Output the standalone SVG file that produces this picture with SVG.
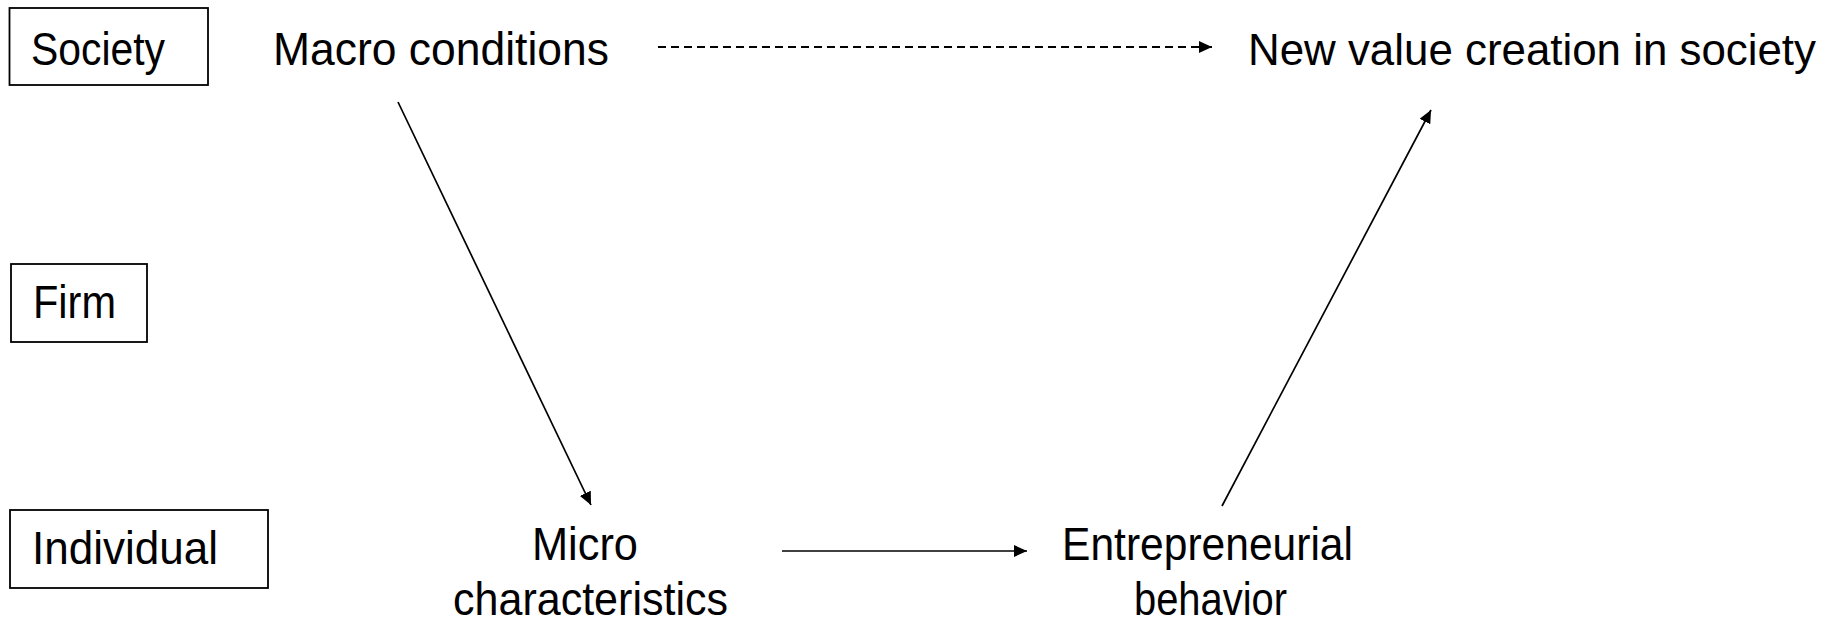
<svg xmlns="http://www.w3.org/2000/svg" width="1831" height="623" viewBox="0 0 1831 623">
<style>
  text { font-family: "Liberation Sans", Arial, sans-serif; font-size: 46px; fill: #000; }
  .box { fill: #fff; stroke: #000; stroke-width: 1.8; }
  .conn { stroke: #000; stroke-width: 1.7; fill: none; }
  .dash { stroke-dasharray: 8 5; stroke-width: 2; }
</style>
<defs>
  <marker id="arr" markerUnits="userSpaceOnUse" markerWidth="14" markerHeight="12" refX="13" refY="6" orient="auto">
    <path d="M0,0 L13,6 L0,12 Z" fill="#000"/>
  </marker>
</defs>
<rect width="1831" height="623" fill="#fff"/>
<g id="society">
  <rect class="box" x="9.5" y="8" width="198.5" height="77"/>
  <text x="31" y="65" textLength="134" lengthAdjust="spacingAndGlyphs">Society</text>
</g>
<g id="firm">
  <rect class="box" x="11" y="264" width="136" height="78"/>
  <text x="33" y="318" textLength="83" lengthAdjust="spacingAndGlyphs">Firm</text>
</g>
<g id="individual">
  <rect class="box" x="10" y="510" width="258" height="78"/>
  <text x="32" y="564" textLength="186" lengthAdjust="spacingAndGlyphs">Individual</text>
</g>
<g id="macro">
  <text x="273" y="65" textLength="336" lengthAdjust="spacingAndGlyphs">Macro conditions</text>
</g>
<g id="newvalue">
  <text x="1248" y="65" style="font-size:44px" textLength="568" lengthAdjust="spacingAndGlyphs">New value creation in society</text>
</g>
<g id="micro">
  <text x="532" y="560" textLength="106" lengthAdjust="spacingAndGlyphs">Micro</text>
  <text x="453" y="615" textLength="275" lengthAdjust="spacingAndGlyphs">characteristics</text>
</g>
<g id="entrepreneurial">
  <text x="1062" y="560" textLength="291" lengthAdjust="spacingAndGlyphs">Entrepreneurial</text>
  <text x="1134" y="615" textLength="153" lengthAdjust="spacingAndGlyphs">behavior</text>
</g>
<g id="connectors">
  <line class="conn dash" x1="658" y1="47" x2="1212" y2="47" marker-end="url(#arr)"/>
  <line class="conn" x1="398" y1="102" x2="591" y2="505" marker-end="url(#arr)"/>
  <line class="conn" x1="782" y1="551" x2="1027" y2="551" marker-end="url(#arr)"/>
  <line class="conn" x1="1222" y1="506" x2="1431" y2="110" marker-end="url(#arr)"/>
</g>
</svg>
